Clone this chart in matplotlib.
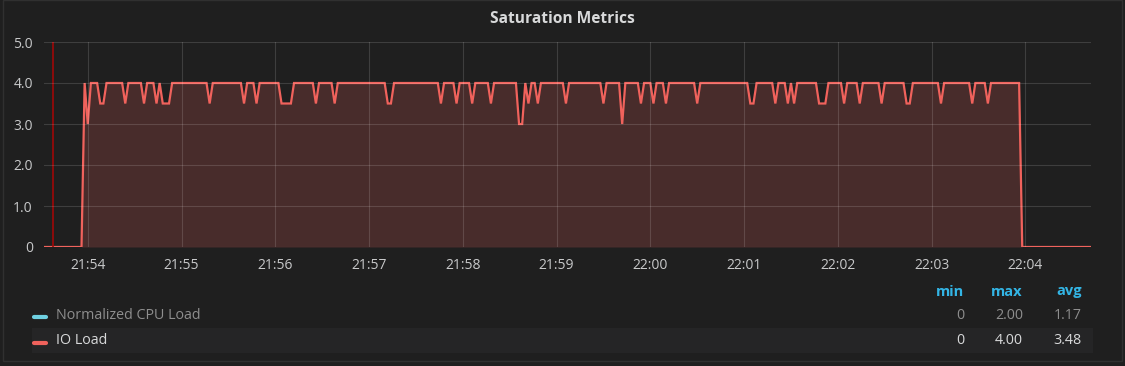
import numpy as np
import matplotlib
matplotlib.use('Agg')
import matplotlib.pyplot as plt
import matplotlib.dates as mdates
from matplotlib.patches import Rectangle
from matplotlib.lines import Line2D

# samples every 2 s starting 21:53:32
t_start = np.datetime64('2024-01-01T21:53:32')
step = np.timedelta64(2, 's')
annotation_time = np.datetime64('2024-01-01T21:53:38')

io_load = [
    0, 0, 0, 0, 0, 0, 0, 0, 0, 0, 0, 0, 0, 4,
    # 21:54
    3, 4, 4, 4, 3.5, 3.5, 4, 4, 4, 4, 4, 4, 3.5, 4, 4, 4,
    4, 4, 3.5, 4, 4, 4, 3.5, 4, 3.5, 3.5, 3.5, 4, 4, 4,
    # 21:55
    4, 4, 4, 4, 4, 4, 4, 4, 4, 3.5, 4, 4, 4, 4, 4,
    4, 4, 4, 4, 4, 3.5, 4, 4, 4, 3.5, 4, 4, 4, 4, 4,
    # 21:56
    4, 4, 3.5, 3.5, 3.5, 3.5, 4, 4, 4, 4, 4, 4, 4, 3.5, 4,
    4, 4, 4, 4, 3.5, 4, 4, 4, 4, 4, 4, 4, 4, 4, 4,
    # 21:57
    4, 4, 4, 4, 4, 4, 3.5, 3.5, 4, 4, 4, 4, 4, 4, 4,
    4, 4, 4, 4, 4, 4, 4, 4, 3.5, 4, 4, 4, 4, 3.5, 4,
    # 21:58
    4, 4, 4, 3.5, 4, 4, 4, 4, 4, 3.5, 4, 4, 4, 4, 4,
    4, 4, 4, 3, 3, 4, 3.5, 4, 4, 3.5, 4, 4, 4, 4, 4,
    # 21:59
    4, 4, 4, 3.5, 4, 4, 4, 4, 4, 4, 4, 4, 4, 4, 4,
    3.5, 4, 4, 4, 4, 4, 3, 4, 4, 4, 4, 4, 3.5, 4, 4,
    # 22:00
    4, 3.5, 4, 4, 4, 3.5, 4, 4, 4, 4, 4, 4, 4, 4, 4,
    3.5, 4, 4, 4, 4, 4, 4, 4, 4, 4, 4, 4, 4, 4, 4,
    # 22:01
    4, 4, 3.5, 3.5, 4, 4, 4, 4, 4, 4, 3.5, 4, 4, 4, 3.5,
    4, 3.5, 4, 4, 4, 4, 4, 4, 4, 3.5, 3.5, 3.5, 4, 4, 4,
    # 22:02
    4, 4, 3.5, 4, 4, 4, 4, 3.5, 4, 4, 4, 4, 4, 4, 3.5,
    4, 4, 4, 4, 4, 4, 4, 3.5, 3.5, 4, 4, 4, 4, 4, 4,
    # 22:03
    4, 4, 4, 3.5, 4, 4, 4, 4, 4, 4, 4, 4, 4, 3.5, 4,
    4, 4, 4, 3.5, 4, 4, 4, 4, 4, 4, 4, 4, 4, 4, 0,
    # 22:04
    0, 0, 0, 0, 0, 0, 0, 0, 0, 0, 0, 0, 0, 0, 0, 0, 0, 0, 0, 0, 0, 0,
]

series_names = ['Normalized CPU Load', 'IO Load']
series_colors = ['#6ed0e0', '#f0625c']
stat_cols = ['min', 'max', 'avg']
stat_vals = [['0', '2.00', '1.17'], ['0', '4.00', '3.48']]
y_ticks = [0, 1, 2, 3, 4, 5]
y_labels = ['0', '1.0', '2.0', '3.0', '4.0', '5.0']

times = t_start + np.arange(len(io_load)) * step
io_load = np.array(io_load, dtype=float)

W, H = 1125, 366
bg = '#1f1f1f'
txt = '#c8c9ca'
plt.rcParams['font.family'] = ['Open Sans', 'DejaVu Sans']

fig = plt.figure(figsize=(W / 100, H / 100), dpi=100, facecolor=bg)


def fx(x):
    return x / W


def fy(y):
    return 1 - y / H


# panel border
fig.add_artist(Rectangle((fx(2.5), fy(360.5)), fx(1122) - fx(2.5), fy(0.5) - fy(360.5),
                         transform=fig.transFigure, facecolor='none', edgecolor='#303030', lw=1))

fig.text(fx(562), fy(19), 'Saturation Metrics', ha='center', va='center',
         color='#d8d9da', fontsize=11.2, fontweight='bold')

ax = fig.add_axes([fx(44), fy(247), fx(1091) - fx(44), fy(42) - fy(247)])
ax.set_facecolor(bg)
ax.fill_between(times, io_load, 0, color=series_colors[1], alpha=0.2, lw=0)
ax.plot(times, io_load, color=series_colors[1], lw=1.6, solid_joinstyle='miter')
ax.axvline(annotation_time, color='#a00808', lw=1.2)

ax.set_xlim(times[0], times[-1])
ax.set_ylim(0, 5)
ax.set_yticks(y_ticks)
ax.set_yticklabels(y_labels)
ax.xaxis.set_major_locator(mdates.MinuteLocator())
ax.xaxis.set_major_formatter(mdates.DateFormatter('%H:%M'))
ax.grid(True, color='#ffffff', alpha=0.14, lw=0.8)
ax.set_axisbelow(False)
for s in ax.spines.values():
    s.set_visible(False)
ax.tick_params(axis='both', length=0, colors=txt, labelsize=10)
ax.tick_params(axis='y', pad=8)
ax.tick_params(axis='x', pad=8)

# legend
fig.add_artist(Rectangle((fx(31.7), fy(353)), fx(1093) - fx(31.7), fy(328) - fy(353),
                         transform=fig.transFigure, facecolor='#252526', edgecolor='none'))
col_x = [964, 1023, 1082]
for cx, name in zip(col_x, stat_cols):
    fig.text(fx(cx), fy(291.5), name, ha='right', va='center', color='#33b5e5',
             fontsize=10.5, fontweight='bold')

row_y = [315.5, 341]
row_colors = ['#8e8e8e', '#d8d9da']
for ry, name, col, tc, vals in zip(row_y, series_names, series_colors, row_colors, stat_vals):
    fig.add_artist(Line2D([fx(34), fx(46)], [fy(ry + 1.5), fy(ry + 1.5)], transform=fig.transFigure,
                          color=col, lw=3, solid_capstyle='round'))
    fig.text(fx(56), fy(ry), name, ha='left', va='center', color=tc, fontsize=10.3)
    for cx, v in zip(col_x, vals):
        fig.text(fx(cx), fy(ry), v, ha='right', va='center', color=tc, fontsize=10.3)

fig.savefig('out.png', dpi=100, facecolor=bg)
